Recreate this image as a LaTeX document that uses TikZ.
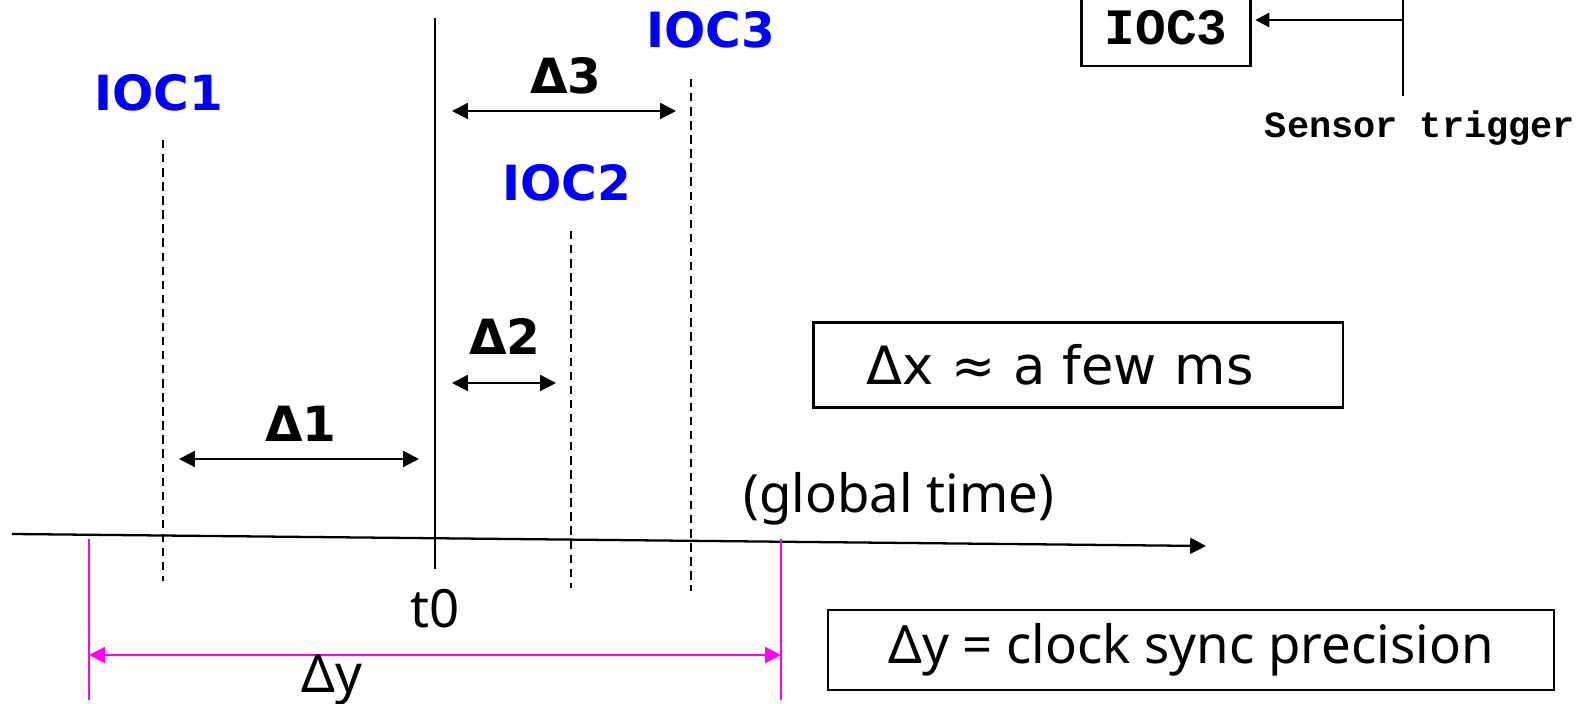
\documentclass[tikz,border=0pt]{standalone}
\usepackage{fontspec}
\setmainfont{DejaVu Sans}
\newfontfamily\tahfont{Noto Sans}
\newfontfamily\monofont{Liberation Mono}
\usetikzlibrary{arrows.meta}
\definecolor{pinkline}{RGB}{255,0,255}

\begin{document}
\begin{tikzpicture}[x=0.01cm,y=-0.01cm,line width=0.65pt]
\tikzset{ioc/.style={text=blue,inner sep=0,font=\fontsize{13.8}{16}\selectfont\bfseries},
  dlt/.style={inner sep=0,font=\fontsize{13.8}{16}\selectfont\bfseries},
  txt/.style={inner sep=0,font=\fontsize{15}{18}\selectfont\tahfont},
  tick/.style={line width=0.8pt,dash pattern=on 2.4pt off 1.6pt},
  dim/.style={{Triangle[length=4.5pt,width=4.5pt]}-{Triangle[length=4.5pt,width=4.5pt]}},
  box/.style={draw,inner sep=0}}
\useasboundingbox (0,0) rectangle (1585,704);

% time axis and t0
\coordinate (a0) at (12,534);
\coordinate (a1) at (1206,546);
\draw[-{Triangle[length=4.5pt,width=4.5pt]}] (a0) -- (a1);
\coordinate (t0top) at (435,18);
\coordinate (t0bot) at (435,569);
\draw (t0top) -- (t0bot);
\node[txt] (t0) at (435,609) {t0};
\node[txt] (gt) at (899,499) {(global time)};

% IOC clocks
\node[ioc] (ioc1) at (159,93) {IOC1};
\node[ioc] (ioc2) at (567,183) {IOC2};
\node[ioc] (ioc3) at (711,30) {IOC3};
\coordinate (c1a) at (163,140);
\coordinate (c1b) at (163,581);
\coordinate (c2a) at (571,231);
\coordinate (c2b) at (571,588);
\coordinate (c3a) at (691,79);
\coordinate (c3b) at (691,591);
\draw[tick] (c1a) -- (c1b);
\draw[tick] (c2a) -- (c2b);
\draw[tick] (c3a) -- (c3b);

% offsets
\coordinate (d1a) at (179,459);
\coordinate (d1b) at (419,459);
\coordinate (d2a) at (452,383);
\coordinate (d2b) at (556,383);
\coordinate (d3a) at (452,111);
\coordinate (d3b) at (676,111);
\draw[dim] (d1a) -- (d1b);
\draw[dim] (d2a) -- (d2b);
\draw[dim] (d3a) -- (d3b);
\node[dlt] (l1) at (301,424) {Δ1};
\node[dlt] (l2) at (505,336) {Δ2};
\node[dlt] (l3) at (566,76) {Δ3};

% clock sync precision
\begin{scope}[pinkline]
\coordinate (m0) at (89,539);
\coordinate (m1) at (89,700);
\coordinate (m2) at (781,539);
\coordinate (m3) at (781,700);
\draw (m0) -- (m1);
\draw (m2) -- (m3);
\coordinate (m4) at (89,655);
\coordinate (m5) at (781,655);
\draw[dim] (m4) -- (m5);
\end{scope}
\node[txt] (dy) at (332,680) {Δy};

% boxes
\node[box,inner xsep=0.53cm,text width=4.23cm,align=left,minimum height=0.85cm,font=\fontsize{15}{18}\selectfont] (dxbox) at (1078,365) {Δx ≈ a few ms};
\node[box,minimum width=7.25cm,minimum height=0.8cm,font=\fontsize{15}{18}\selectfont\tahfont] (dybox) at (1191,650) {Δy = clock sync precision};

% sensor trigger
\node[box,minimum width=1.69cm,minimum height=0.76cm,font=\fontsize{14.5}{17}\selectfont\monofont\bfseries] (box3) at (1166,28) {IOC3};
\coordinate (s0) at (1403,0);
\coordinate (s1) at (1403,96);
\coordinate (s2) at (1403,20);
\draw (s0) -- (s1);
\draw[-{Triangle[length=4pt,width=4pt]},shorten >=1pt] (s2) -- (box3.east |- s2);
\node[inner sep=0,font=\fontsize{10.5}{12}\selectfont\monofont\bfseries] (sens) at (1420,128) {Sensor trigger};
\end{tikzpicture}
\end{document}
